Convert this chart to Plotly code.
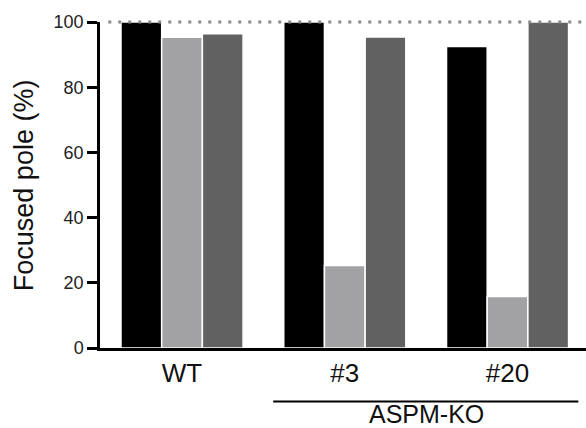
import plotly.graph_objects as go

categories = ["WT", "#3", "#20"]
series_names = ["Condition 1", "Condition 2", "Condition 3"]
series_values = [
    [100, 100, 92.5],
    [95.3, 25.3, 15.8],
    [96.4, 95.4, 100],
]
series_colors = ["#000000", "#a2a2a5", "#616161"]
y_ticks = [0, 20, 40, 60, 80, 100]
group_label = "ASPM-KO"
y_title = "Focused pole (%)"

FONT = "Arial, Liberation Sans, sans-serif"

fig = go.Figure()
for name, vals, col in zip(series_names, series_values, series_colors):
    fig.add_trace(go.Bar(
        x=categories, y=vals, name=name,
        marker=dict(color=col, line=dict(color="#ffffff", width=1.5)),
        showlegend=False,
    ))

# dotted reference line at 100% (top of the y range -> paper y = 1)
fig.add_shape(type="line", xref="paper", yref="paper", x0=0.017, x1=1, y0=1, y1=1,
              line=dict(color="#8a8a8a", width=3, dash="3px,7px"), layer="above")

# group bracket line under #3 and #20
fig.add_shape(type="line", xref="x", yref="paper", x0=1 - 0.44, x1=2 + 0.435,
              y0=-0.164, y1=-0.164, line=dict(color="#000000", width=2))
fig.add_annotation(text=group_label, xref="x", yref="paper", x=1.5, y=-0.202,
                   showarrow=False, xanchor="center", yanchor="middle",
                   font=dict(size=25, color="#111111", family=FONT))
fig.add_annotation(text=y_title, xref="paper", yref="paper", x=-0.156, y=0.5,
                   textangle=-90, showarrow=False, xanchor="center", yanchor="middle",
                   font=dict(size=27, color="#111111", family=FONT))

fig.update_layout(
    width=586, height=428,
    margin=dict(l=100, r=0, t=22, b=80),
    plot_bgcolor="#ffffff", paper_bgcolor="#ffffff",
    barmode="group", bargap=0.25, bargroupgap=0,
    font=dict(family=FONT, color="#111111"),
    xaxis=dict(
        range=[-0.504, 2.482], showline=True, linecolor="#000000", linewidth=2.5,
        ticks="", tickfont=dict(size=26, color="#111111"), showgrid=False, zeroline=False,
    ),
    yaxis=dict(
        range=[0, 100], tickvals=y_ticks, showline=True, linecolor="#000000", linewidth=2.5,
        ticks="outside", ticklen=10, tickwidth=2.5, tickcolor="#000000",
        tickfont=dict(size=18, color="#222222"), showgrid=False, zeroline=False,
    ),
)

fig.write_html("out.html", config={"displayModeBar": False},
               post_script="document.body.style.margin='0px';")
